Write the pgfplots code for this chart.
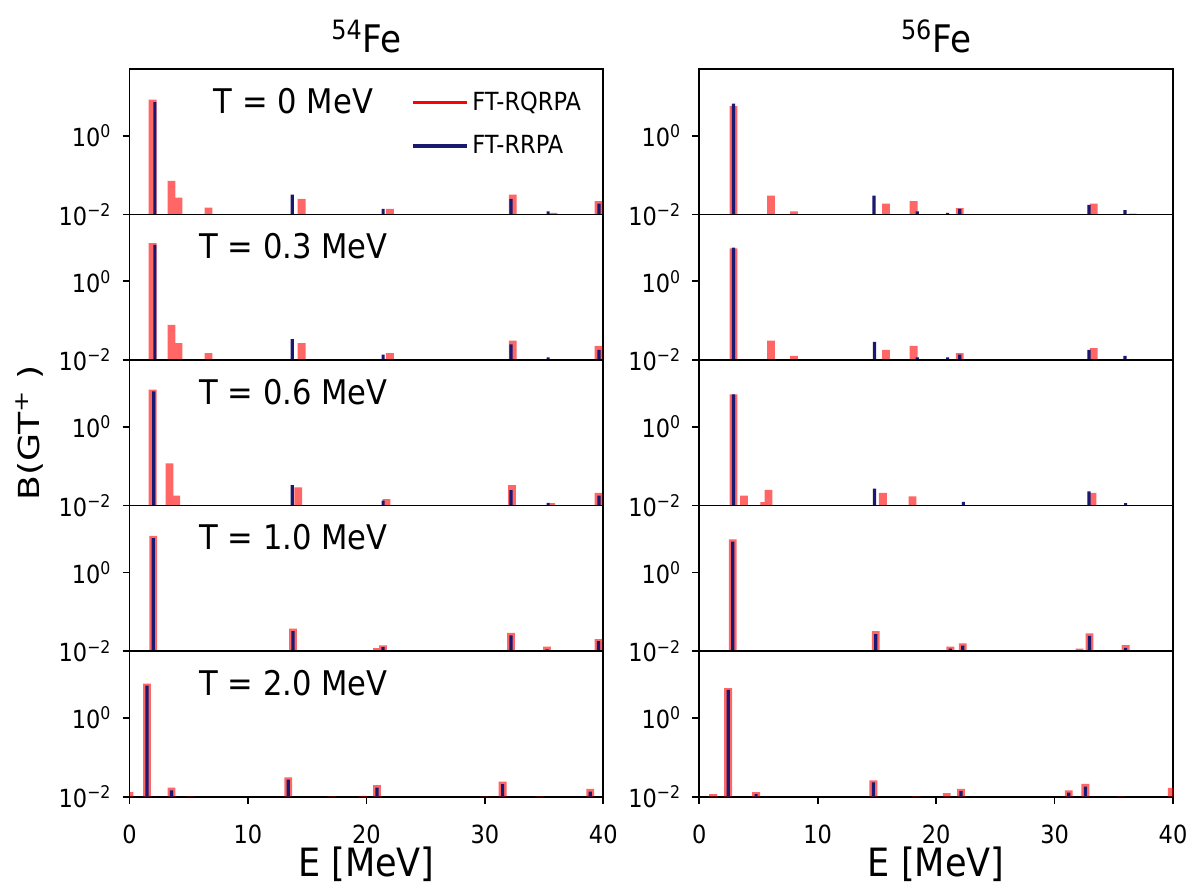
\documentclass[border=0pt]{standalone}
\usepackage{fontspec}
\setmainfont{DejaVu Sans}[FakeStretch=0.9]
\newfontfamily\ylabfont{DejaVu Sans}[FakeStretch=1.25]
\usepackage{pgfplots}
\pgfplotsset{compat=1.18}
\usepgfplotslibrary{groupplots}
\definecolor{rrpa}{RGB}{25,25,112}
\newcommand{\fs}[1]{\fontsize{#1}{#1}\selectfont}
\begin{document}
\begin{tikzpicture}
\pgfplotsset{
  rq/.style={ybar, bar width=0.66, bar shift=0pt, fill=red, fill opacity=0.6, draw=none, forget plot},
  rr/.style={ybar, bar width=0.27, bar shift=0pt, fill=rrpa, draw=none, forget plot},
  bottomrow/.style={xmajorticks=true, xlabel={E [MeV]}},
}
\begin{groupplot}[
  group style={group size=2 by 5, horizontal sep=48pt, vertical sep=0pt},
  scale only axis, width=237pt, height=72.8pt,
  xmin=0, xmax=40, ymode=log, ymin=0.01, ymax=50, log origin=infty,
  ytick={0.01,1}, yticklabels={10\textsuperscript{−2},10\textsuperscript{0}},
  yminorticks=false,
  xtick={0,10,20,30,40},
  xmajorticks=false,
  tick align=outside, tick pos=left,
  major tick length=3.5pt,
  every tick/.style={black, line width=0.9pt},
  axis line style={line width=0.9pt},
  tick label style={font=\fs{12.5}},
  /pgf/number format/assume math mode=true,
  yticklabel style={xshift=-2pt},
  xticklabel style={inner sep=1pt, yshift=-9.5pt},
  every axis x label/.style={at={(axis description cs:0.5,0)}, anchor=center, inner sep=0pt, yshift=-34pt, font=\fs{19.5}},
  title style={font=\fs{19}, yshift=-1.5pt},
]
% ---- row 1: T = 0
\nextgroupplot[title={\textsuperscript{54}Fe},
  legend style={draw=none, fill=none, at={(rel axis cs:0.975,0.90)}, anchor=north east, font=\fs{12.5}, row sep=7pt, cells={anchor=west}},
  legend image code/.code={\draw[#1, line width=1.6pt] (0pt,0pt) -- (27pt,0pt);}]
\addlegendimage{red}\addlegendentry{FT-RQRPA}
\addlegendimage{rrpa}\addlegendentry{FT-RRPA}
\addplot[rq] coordinates {(1.95,8.3) (3.55,0.072) (4.14,0.027) (6.66,0.015) (14.53,0.025) (21.1,0.0102) (21.98,0.014) (32.36,0.032) (35.8,0.011) (39.6,0.022)};
\addplot[rr] coordinates {(2.14,7.2) (13.74,0.032) (21.41,0.014) (32.2,0.025) (35.34,0.012) (39.64,0.019)};
\node[font=\fs{17}] at (rel axis cs:0.346,0.78) {T = 0 MeV};
\nextgroupplot[title={\textsuperscript{56}Fe}]
\addplot[rq] coordinates {(2.89,5.7) (6.05,0.030) (8.0,0.012) (15.77,0.019) (18.1,0.022) (22.0,0.0145) (33.3,0.019) (36.6,0.0106)};
\addplot[rr] coordinates {(2.89,6.6) (14.75,0.030) (18.4,0.012) (20.97,0.011) (21.99,0.0139) (32.9,0.0175) (35.95,0.013)};
% ---- row 2: T = 0.3
\nextgroupplot
\addplot[rq] coordinates {(1.95,9.4) (3.55,0.078) (4.14,0.027) (6.66,0.015) (14.53,0.027) (21.98,0.015) (32.36,0.031) (35.8,0.0102) (39.6,0.023)};
\addplot[rr] coordinates {(2.14,8.4) (13.74,0.034) (21.41,0.0137) (32.2,0.025) (35.34,0.0117) (39.64,0.018)};
\node[font=\fs{17}] at (rel axis cs:0.346,0.78) {T = 0.3 MeV};
\nextgroupplot
\addplot[rq] coordinates {(2.89,6.9) (6.05,0.031) (8.0,0.0127) (15.77,0.018) (18.1,0.023) (22.0,0.015) (33.3,0.02)};
\addplot[rr] coordinates {(2.89,7.2) (14.8,0.029) (18.4,0.0117) (20.97,0.0117) (21.99,0.0137) (32.9,0.018) (35.95,0.0127)};
% ---- row 3: T = 0.6
\nextgroupplot
\addplot[rq] coordinates {(1.95,8.9) (3.38,0.118) (3.95,0.018) (14.24,0.029) (20.6,0.0101) (21.7,0.0145) (32.29,0.033) (35.6,0.0115) (39.6,0.021)};
\addplot[rr] coordinates {(2.05,8.0) (13.74,0.033) (21.41,0.0134) (32.2,0.0247) (35.34,0.0117) (39.64,0.018)};
\node[font=\fs{17}] at (rel axis cs:0.346,0.78) {T = 0.6 MeV};
\nextgroupplot
\addplot[rq] coordinates {(2.89,6.7) (3.77,0.018) (5.5,0.0122) (5.85,0.025) (15.5,0.021) (18.0,0.017) (20.9,0.0101) (33.2,0.021) (36.5,0.0102)};
\addplot[rr] coordinates {(2.89,6.7) (14.8,0.027) (22.3,0.0124) (32.9,0.023) (36.0,0.0115)};
% ---- row 4: T = 1.0
\nextgroupplot
\addplot[rq] coordinates {(2.0,8.5) (13.8,0.037) (20.2,0.0101) (20.9,0.0119) (21.4,0.0139) (32.2,0.029) (35.25,0.0129) (39.6,0.020)};
\addplot[rr] coordinates {(2.0,7.4) (13.8,0.032) (21.4,0.0126) (32.2,0.025) (35.25,0.011) (39.6,0.018)};
\node[font=\fs{17}] at (rel axis cs:0.346,0.78) {T = 1.0 MeV};
\nextgroupplot
\addplot[rq] coordinates {(2.83,6.9) (14.9,0.032) (21.2,0.013) (22.25,0.0156) (30.5,0.0101) (32.1,0.0115) (32.95,0.028) (36.0,0.0142)};
\addplot[rr] coordinates {(2.83,6.1) (14.9,0.027) (21.2,0.0115) (22.25,0.0137) (32.95,0.0245) (36.0,0.012)};
% ---- row 5: T = 2.0
\nextgroupplot[bottomrow]
\addplot[rq] coordinates {(0.0,0.013) (1.47,7.4) (3.55,0.017) (5.1,0.0101) (13.4,0.031) (17.1,0.0101) (19.7,0.0105) (20.9,0.0195) (30.0,0.0101) (31.5,0.024) (34.6,0.0101) (38.9,0.0157)};
\addplot[rr] coordinates {(1.47,6.6) (3.55,0.0145) (13.4,0.027) (20.9,0.017) (31.5,0.0207) (38.9,0.0134)};
\node[font=\fs{17}] at (rel axis cs:0.346,0.78) {T = 2.0 MeV};
\nextgroupplot[bottomrow]
\addplot[rq] coordinates {(1.17,0.0115) (2.44,5.7) (4.8,0.013) (14.7,0.026) (18.3,0.0101) (20.9,0.0122) (22.1,0.0157) (31.2,0.0145) (32.6,0.021) (35.6,0.0101) (39.9,0.0166)};
\addplot[rr] coordinates {(2.44,5.2) (4.8,0.0115) (14.7,0.023) (22.1,0.0137) (31.2,0.0126) (32.6,0.018)};
\end{groupplot}
\node[rotate=90, font=\ylabfont\fs{14.5}, anchor=center] at ([xshift=-50pt]group c1r3.west) {B(GT\textsuperscript{+} )};
\pgfresetboundingbox
\path[use as bounding box] ([xshift=-64.8pt,yshift=34.5pt]group c1r1.north west) rectangle ([xshift=9pt,yshift=-47pt]group c2r5.south east);
\end{tikzpicture}
\end{document}
